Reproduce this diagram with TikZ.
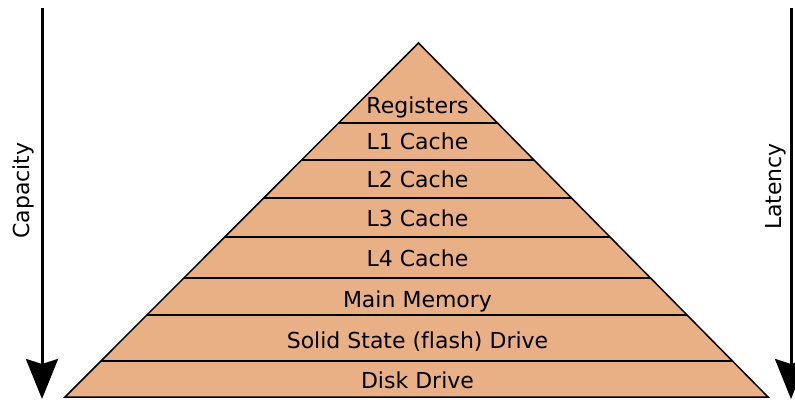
\documentclass[tikz,border=0pt]{standalone}
\usepackage{fontspec}
\setmainfont{DejaVu Sans}[Ligatures={NoCommon}]
\usetikzlibrary{arrows.meta,calc}
\definecolor{layer}{RGB}{233,176,133}
\begin{document}
\begin{tikzpicture}[x=1pt,y=-1pt,
  lbl/.style={font=\fontsize{22}{26}\selectfont, inner sep=0pt, anchor=base},
  edge/.style={line width=1.5pt},
  axis/.style={line width=3pt, -{Stealth[length=40pt,width=32pt,inset=5pt]}}]
\useasboundingbox (0,0) rectangle (795,399);
\coordinate (apex) at (418.5,43);
\coordinate (bl) at (65,397);
\coordinate (br) at (768,397);
\filldraw[fill=layer, edge, line join=miter] (apex) -- (br) -- (bl) -- cycle;
\foreach \y in {123,160,198,237,278,315,361} {
  \pgfmathsetmacro\t{(\y-43)/354}
  \draw[edge] ($(apex)!\t!(bl)$) -- ($(apex)!\t!(br)$);
}
\node[lbl] (reg) at (417.5,113) {Registers};
\node[lbl] (l1) at (417.5,149) {L1 Cache};
\node[lbl] (l2) at (417.5,187) {L2 Cache};
\node[lbl] (l3) at (417.5,226) {L3 Cache};
\node[lbl] (l4) at (417.5,266) {L4 Cache};
\node[lbl] (mem) at (417.5,307) {Main Memory};
\node[lbl] (ssd) at (417.5,348) {Solid State (flash) Drive};
\node[lbl] (disk) at (417.5,388) {Disk Drive};
\coordinate (capTop) at (42,8);
\coordinate (capEnd) at (42,399);
\coordinate (latTop) at (791,8);
\coordinate (latEnd) at (791,399);
\draw[axis] (capTop) -- (capEnd);
\draw[axis] (latTop) -- (latEnd);
\node[lbl, rotate=90] (cap) at (29,190.5) {Capacity};
\node[lbl, rotate=90] (lat) at (781.5,186.5) {Latency};
\end{tikzpicture}
\end{document}
